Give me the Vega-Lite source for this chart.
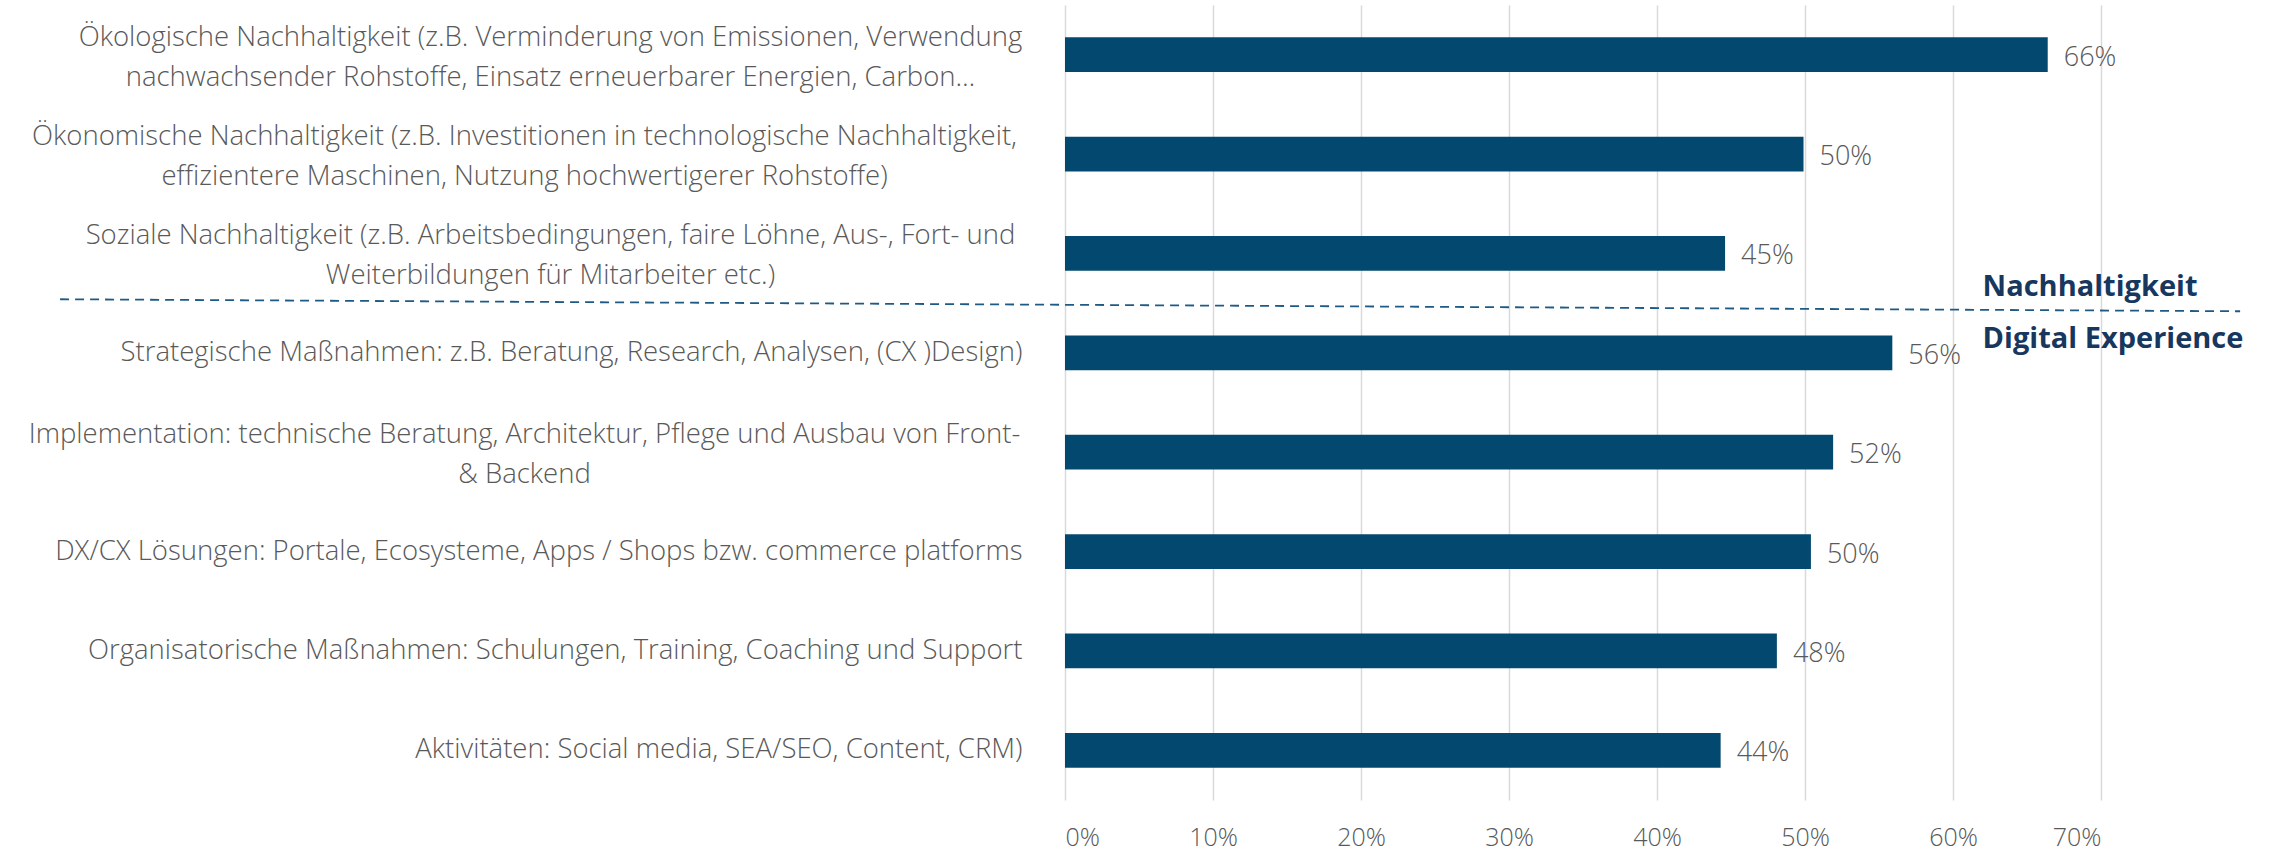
{
  "$schema": "https://vega.github.io/schema/vega-lite/v6.json",
  "autosize": "none",
  "width": 1036,
  "height": 795,
  "padding": {"left": 1065, "top": 5, "right": 183, "bottom": 52},
  "background": "white",
  "config": {
    "view": {"stroke": null},
    "font": "Open Sans"
  },
  "layer": [
    {
      "data": {
        "values": [
          {"label": "Ökologische Nachhaltigkeit (z.B. Verminderung von Emissionen, Verwendung|nachwachsender Rohstoffe, Einsatz erneuerbarer Energien, Carbon…", "value": 0.664},
          {"label": "Ökonomische Nachhaltigkeit (z.B. Investitionen in technologische Nachhaltigkeit,|effizientere Maschinen, Nutzung hochwertigerer Rohstoffe)", "value": 0.499},
          {"label": "Soziale Nachhaltigkeit (z.B. Arbeitsbedingungen, faire Löhne, Aus-, Fort- und|Weiterbildungen für Mitarbeiter etc.)", "value": 0.446},
          {"label": "Strategische Maßnahmen: z.B. Beratung, Research, Analysen, (CX )Design)", "value": 0.559},
          {"label": "Implementation: technische Beratung, Architektur, Pflege und Ausbau von Front-|& Backend", "value": 0.519},
          {"label": "DX/CX Lösungen: Portale, Ecosysteme, Apps / Shops bzw. commerce platforms", "value": 0.504},
          {"label": "Organisatorische Maßnahmen: Schulungen, Training, Coaching und Support", "value": 0.481},
          {"label": "Aktivitäten: Social media, SEA/SEO, Content, CRM)", "value": 0.443}
        ]
      },
      "encoding": {
        "y": {
          "field": "label",
          "type": "nominal",
          "sort": null,
          "scale": {"paddingInner": 0.65, "paddingOuter": 0.325},
          "axis": {
            "title": null,
            "domain": false,
            "ticks": false,
            "grid": false,
            "labelExpr": "split(datum.label, '|')",
            "labelFont": "Open Sans",
            "labelFontWeight": 300,
            "labelFontSize": 27.5,
            "labelLineHeight": 40,
            "labelColor": "#595959",
            "labelAlign": {"condition": {"test": "indexof(datum.value, '|') >= 0", "value": "center"}, "value": "right"},
            "labelOffset": {"condition": {"test": "indexof(datum.value, '|') >= 0", "value": -17}, "value": 0},
            "labelPadding": {
              "condition": [
                {"test": "indexof(datum.value, 'Ökologische') === 0", "value": 515},
                {"test": "indexof(datum.value, 'Ökonomische') === 0", "value": 541},
                {"test": "indexof(datum.value, 'Soziale') === 0", "value": 515},
                {"test": "indexof(datum.value, 'Implementation') === 0", "value": 541}
              ],
              "value": 43
            },
            "labelLimit": 1100
          }
        },
        "x": {
          "field": "value",
          "type": "quantitative",
          "scale": {"domain": [0, 0.7], "nice": false},
          "axis": {
            "title": null,
            "format": ".0%",
            "values": [0, 0.1, 0.2, 0.3, 0.4, 0.5, 0.6, 0.7],
            "domain": false,
            "ticks": false,
            "grid": true,
            "gridColor": "#D9D9D9",
            "gridWidth": 1.5,
            "labelFont": "Open Sans",
            "labelFontWeight": 300,
            "labelFontSize": 25,
            "labelColor": "#595959",
            "labelPadding": 25
          }
        }
      },
      "layer": [
        {"mark": {"type": "bar", "color": "#03486F"}},
        {
          "mark": {"type": "text", "align": "left", "baseline": "middle", "dx": 16, "dy": 3, "font": "Open Sans", "fontWeight": 300, "fontSize": 27, "color": "#595959"},
          "encoding": {"text": {"field": "value", "type": "quantitative", "format": ".0%"}}
        }
      ]
    },
    {
      "data": {"values": [{"x": -0.679, "x2": 0.794, "y": 2.961, "y2": 3.082}]},
      "mark": {"type": "rule", "color": "#1F5A85", "strokeWidth": 1.8, "strokeDash": [9, 6], "clip": false},
      "encoding": {
        "x": {"field": "x", "type": "quantitative"},
        "x2": {"field": "x2"},
        "y": {"field": "y", "type": "quantitative", "scale": {"domain": [0, 8], "reverse": true, "nice": false, "zero": false}, "axis": null},
        "y2": {"field": "y2"}
      }
    },
    {
      "data": {"values": [{"text": "Nachhaltigkeit", "x": 0.62, "y": 2.93}, {"text": "Digital Experience", "x": 0.62, "y": 3.454}]},
      "mark": {"type": "text", "align": "left", "baseline": "alphabetic", "font": "Open Sans", "fontWeight": "bold", "fontSize": 29, "color": "#17375E"},
      "encoding": {
        "x": {"field": "x", "type": "quantitative"},
        "y": {"field": "y", "type": "quantitative", "scale": {"domain": [0, 8], "reverse": true, "nice": false, "zero": false}, "axis": null},
        "text": {"field": "text"}
      }
    }
  ],
  "resolve": {"scale": {"y": "independent"}}
}
